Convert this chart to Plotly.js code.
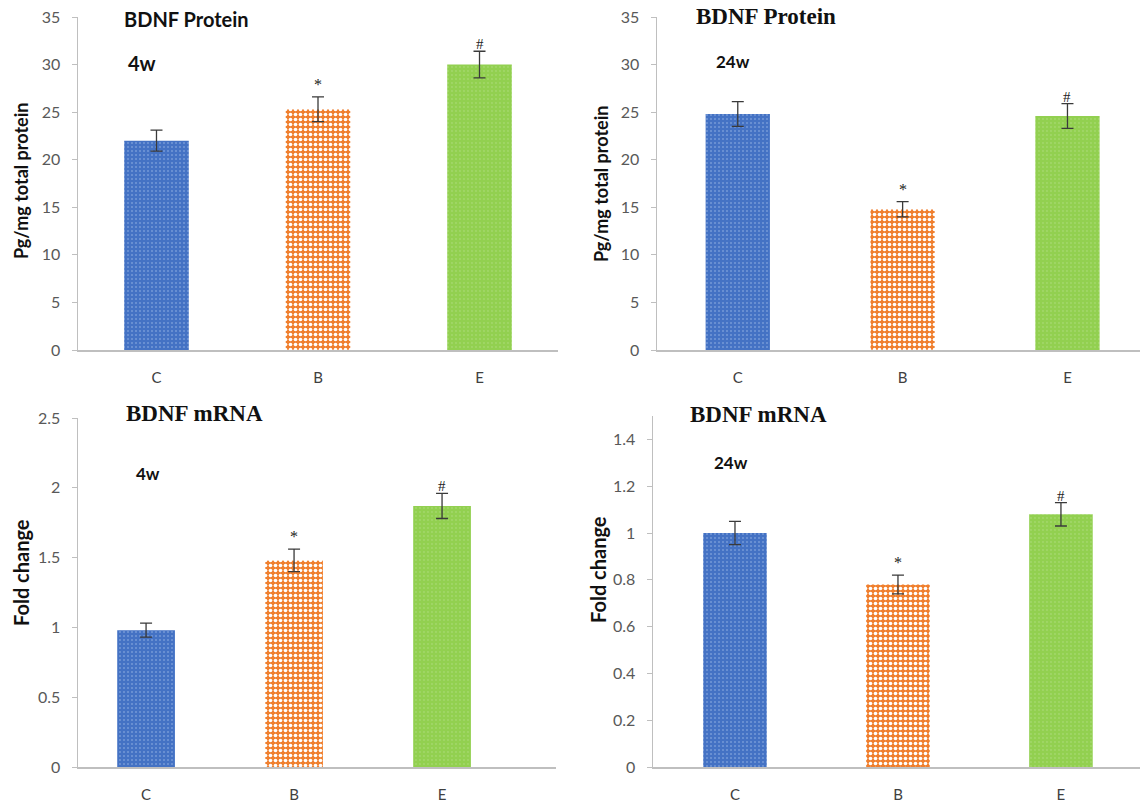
<!DOCTYPE html>
<html>
<head>
<meta charset="utf-8">
<script src="https://cdn.plot.ly/plotly-3.0.1.min.js"></script>
<style>body{margin:0;background:#fff}#chart{width:1140px;height:803px}</style>
</head>
<body>
<div id="chart"></div>
<script>
// ---- data ----
const groups = ['C', 'B', 'E'];
const protein4w = [22.0, 25.3, 30.0];
const protein4wErr = [1.1, 1.3, 1.4];
const protein24w = [24.8, 14.8, 24.6];
const protein24wErr = [1.3, 0.8, 1.3];
const mrna4w = [0.98, 1.48, 1.87];
const mrna4wErr = [0.05, 0.08, 0.09];
const mrna24w = [1.00, 0.78, 1.08];
const mrna24wErr = [0.05, 0.04, 0.05];
const sigMarks = ['', '*', '#'];
const proteinTicks = [0, 5, 10, 15, 20, 25, 30, 35];
const mrna4wTicks = [0, 0.5, 1, 1.5, 2, 2.5];
const mrna24wTicks = [0, 0.2, 0.4, 0.6, 0.8, 1, 1.2, 1.4];

// ---- styles ----
const barColors = ['#4472C4', '#F07F2E', '#92D050'];
const patFg = ['#7196D6', '#FFFFFF', '#A4D86C'];
const patSize = [4, 5, 4];
const patSolidity = [0.22, 0.42, 0.18];

const data = [];
function addBars(vals, errs, xa, ya, w) {
  groups.forEach((g, i) => {
    data.push({
      type: 'bar', x: [g], y: [vals[i]], xaxis: xa, yaxis: ya, width: w,
      marker: {
        color: barColors[i],
        pattern: {shape: '.', fillmode: 'overlay', fgcolor: patFg[i], size: patSize[i], solidity: patSolidity[i], fgopacity: 1},
        line: {width: 0}
      },
      error_y: {type: 'data', array: [errs[i]], visible: true, color: '#3A3A3A', thickness: 1.3, width: 6},
      hoverinfo: 'x+y', showlegend: false
    });
  });
}
addBars(protein4w, protein4wErr, 'x', 'y', 0.40);
addBars(protein24w, protein24wErr, 'x2', 'y2', 0.39);
addBars(mrna4w, mrna4wErr, 'x3', 'y3', 0.39);
addBars(mrna24w, mrna24wErr, 'x4', 'y4', 0.39);

const tickFont = {family: 'Lato, "Open Sans", sans-serif', size: 16, color: '#595959'};
function xAxis(domain, range, anchor) {
  return {
    domain: domain, range: range, anchor: anchor, type: 'category',
    categoryorder: 'array', categoryarray: groups,
    showline: true, linecolor: '#BFBFBF', linewidth: 1.5,
    ticks: '', showgrid: false, zeroline: false,
    tickfont: {family: 'Lato, "Open Sans", sans-serif', size: 15, color: '#404040'},
    ticklabelstandoff: 13, fixedrange: true
  };
}
function yAxis(domain, range, tickvals, anchor) {
  return {
    domain: domain, range: range, anchor: anchor,
    tickvals: tickvals, ticktext: tickvals.map(v => String(v)),
    showline: true, linecolor: '#BFBFBF', linewidth: 1.5,
    ticks: 'outside', ticklen: 5, tickcolor: '#BFBFBF', tickwidth: 1,
    showgrid: false, zeroline: false,
    tickfont: tickFont, ticklabelstandoff: 8, fixedrange: true
  };
}

const annotations = [];
function addSig(vals, errs, xr, yr) {
  vals.forEach((v, i) => {
    if (!sigMarks[i]) return;
    annotations.push({
      x: groups[i], y: v + errs[i], xref: xr, yref: yr, text: sigMarks[i],
      showarrow: false, yanchor: 'bottom', yshift: sigMarks[i] === '*' ? 2 : -3,
      font: {family: '"Liberation Serif", serif', size: sigMarks[i] === '*' ? 16 : 15, color: '#222222'}
    });
  });
}
addSig(protein4w, protein4wErr, 'x', 'y');
addSig(protein24w, protein24wErr, 'x2', 'y2');
addSig(mrna4w, mrna4wErr, 'x3', 'y3');
addSig(mrna24w, mrna24wErr, 'x4', 'y4');

function txt(text, x, y, font, angle) {
  annotations.push({
    text: text, xref: 'paper', yref: 'paper', x: x / 1140, y: 1 - y / 803,
    xanchor: 'center', yanchor: 'middle', showarrow: false, font: font, textangle: angle || 0
  });
}
const sansBold = (s) => ({family: 'Lato, "Open Sans", sans-serif', size: s, color: '#111111', weight: 'bold'});
const serifBold = (s) => ({family: '"Liberation Serif", "DejaVu Serif", serif', size: s, color: '#111111', weight: 'bold'});

txt('BDNF Protein', 186, 19, sansBold(20));
txt('4w', 142, 63, sansBold(20));
txt('BDNF Protein', 766, 17, serifBold(23));
txt('24w', 733, 62, sansBold(17));
txt('BDNF mRNA', 194, 414, serifBold(23));
txt('4w', 148, 473, sansBold(17));
txt('BDNF mRNA', 758, 415, serifBold(23));
txt('24w', 731, 462, sansBold(17));
txt('Pg/mg total protein', 21, 181, sansBold(18), -90);
txt('Pg/mg total protein', 601, 184, sansBold(18), -90);
txt('Fold change', 21, 573, sansBold(20), -90);
txt('Fold change', 598, 570, sansBold(20), -90);

const layout = {
  width: 1140, height: 803,
  margin: {l: 0, r: 0, t: 0, b: 0},
  paper_bgcolor: '#ffffff', plot_bgcolor: '#ffffff',
  showlegend: false, barmode: 'overlay',
  xaxis: xAxis([78 / 1140, 558 / 1140], [-0.486, 2.486], 'y'),
  yaxis: yAxis([(803 - 350) / 803, (803 - 17) / 803], [0, 35], proteinTicks, 'x'),
  xaxis2: xAxis([657 / 1140, 1], [-0.49, 2.44], 'y2'),
  yaxis2: yAxis([(803 - 350) / 803, (803 - 17) / 803], [0, 35], proteinTicks, 'x2'),
  xaxis3: xAxis([78 / 1140, 556 / 1140], [-0.46, 2.77], 'y3'),
  yaxis3: yAxis([(803 - 767) / 803, (803 - 418) / 803], [0, 2.5], mrna4wTicks, 'x3'),
  xaxis4: xAxis([653 / 1140, 1], [-0.503, 2.485], 'y4'),
  yaxis4: yAxis([(803 - 767) / 803, (803 - 416) / 803], [0, 1.5], mrna24wTicks, 'x4'),
  annotations: annotations
};

Plotly.newPlot('chart', data, layout, {displayModeBar: false, staticPlot: true});
</script>
</body>
</html>
